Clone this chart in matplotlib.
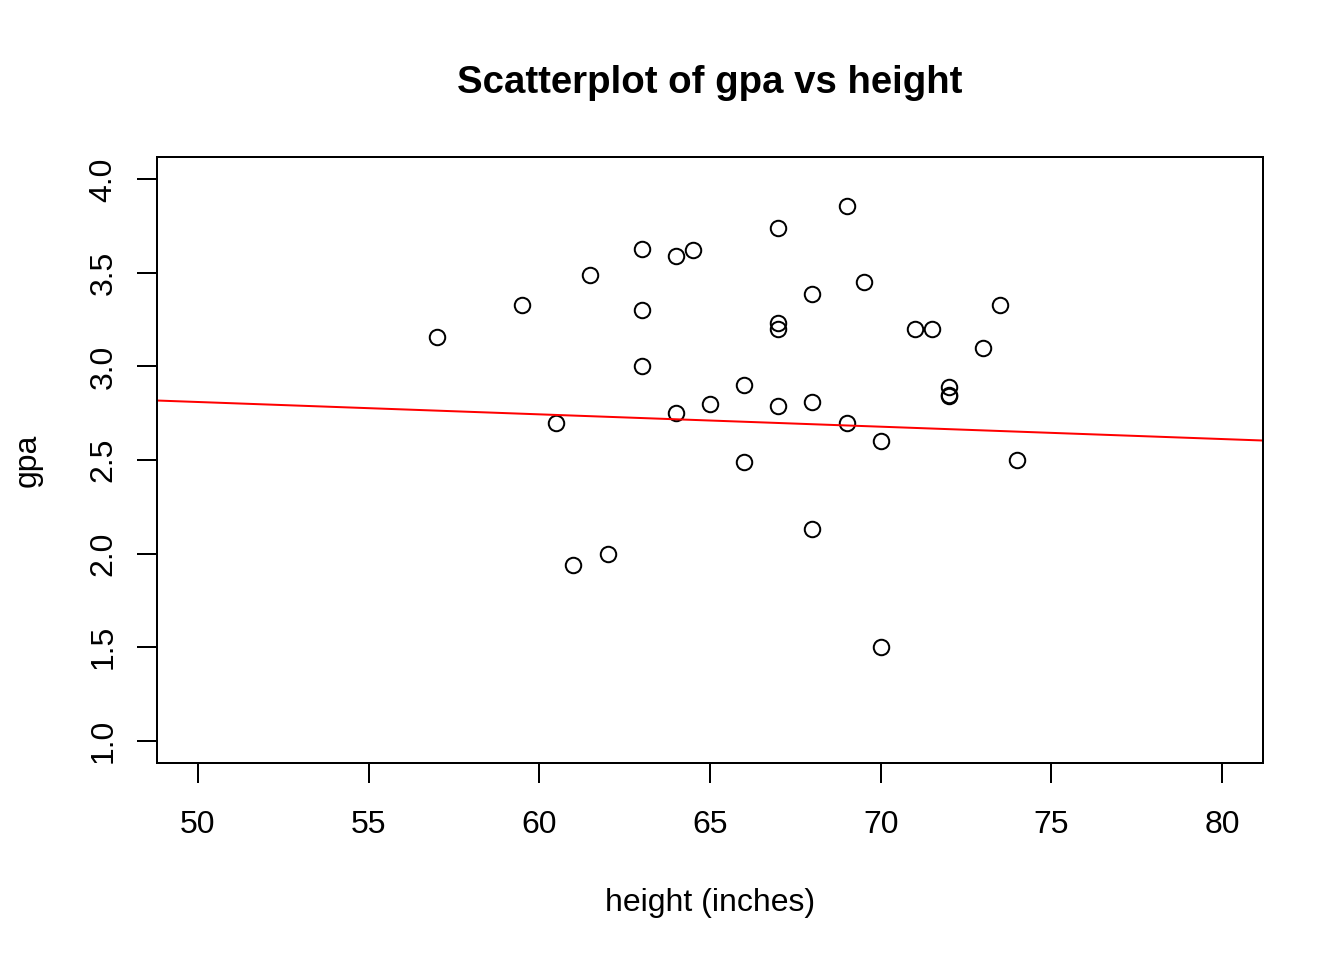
import matplotlib
matplotlib.use("Agg")
import matplotlib.pyplot as plt
import numpy as np

plt.rcParams['font.family'] = ['Liberation Sans', 'DejaVu Sans']

height = [57, 59.5, 60.5, 61.5, 61, 62, 63, 63, 63, 64, 64, 64.5, 65, 66, 66,
          67, 67, 67, 67, 68, 68, 68, 69, 69, 69.5, 70, 70, 71, 71.5, 72, 72, 72,
          73, 73.5, 74]
gpa = [3.16, 3.33, 2.70, 3.49, 1.94, 2.00, 3.63, 3.30, 3.00, 3.59, 2.75, 3.62,
       2.80, 2.90, 2.49, 3.74, 3.23, 3.20, 2.79, 3.39, 2.81, 2.13, 3.86, 2.70,
       3.45, 2.60, 1.50, 3.20, 3.20, 2.89, 2.85, 2.84, 3.10, 3.33, 2.50]

# regression line as drawn in the original (abline coefficients)
intercept = 3.140
slope = -0.0066

xticks = [50, 55, 60, 65, 70, 75, 80]
yticks = [1.0, 1.5, 2.0, 2.5, 3.0, 3.5, 4.0]

fig = plt.figure(figsize=(7, 5), dpi=192)
ax = fig.add_axes([0.1168, 0.2052, 0.8229, 0.6313])

ax.plot(height, gpa, 'o', mfc='none', mec='black', ms=5.8, mew=0.75)

xl = np.array([48.8, 81.2])
ax.plot(xl, intercept + slope * xl, color='red', lw=0.75)

ax.set_xlim(48.8, 81.2)
ax.set_ylim(0.88, 4.12)
ax.set_xticks(xticks)
ax.set_xticklabels([str(t) for t in xticks])
ax.set_yticks(yticks)
ax.set_yticklabels(['%.1f' % t for t in yticks], rotation=90, va='center')
ax.tick_params(direction='out', length=7.5, width=0.75, labelsize=12, pad=10)
ax.tick_params(axis='y', pad=7)
for s in ax.spines.values():
    s.set_linewidth(0.75)

ax.set_xlabel('height (inches)', fontsize=12, labelpad=18)
ax.set_ylabel('gpa', fontsize=12, labelpad=17)
ax.set_title('Scatterplot of gpa vs height', fontsize=14.4, fontweight='bold', pad=24)

fig.savefig('out.png', dpi=192)
